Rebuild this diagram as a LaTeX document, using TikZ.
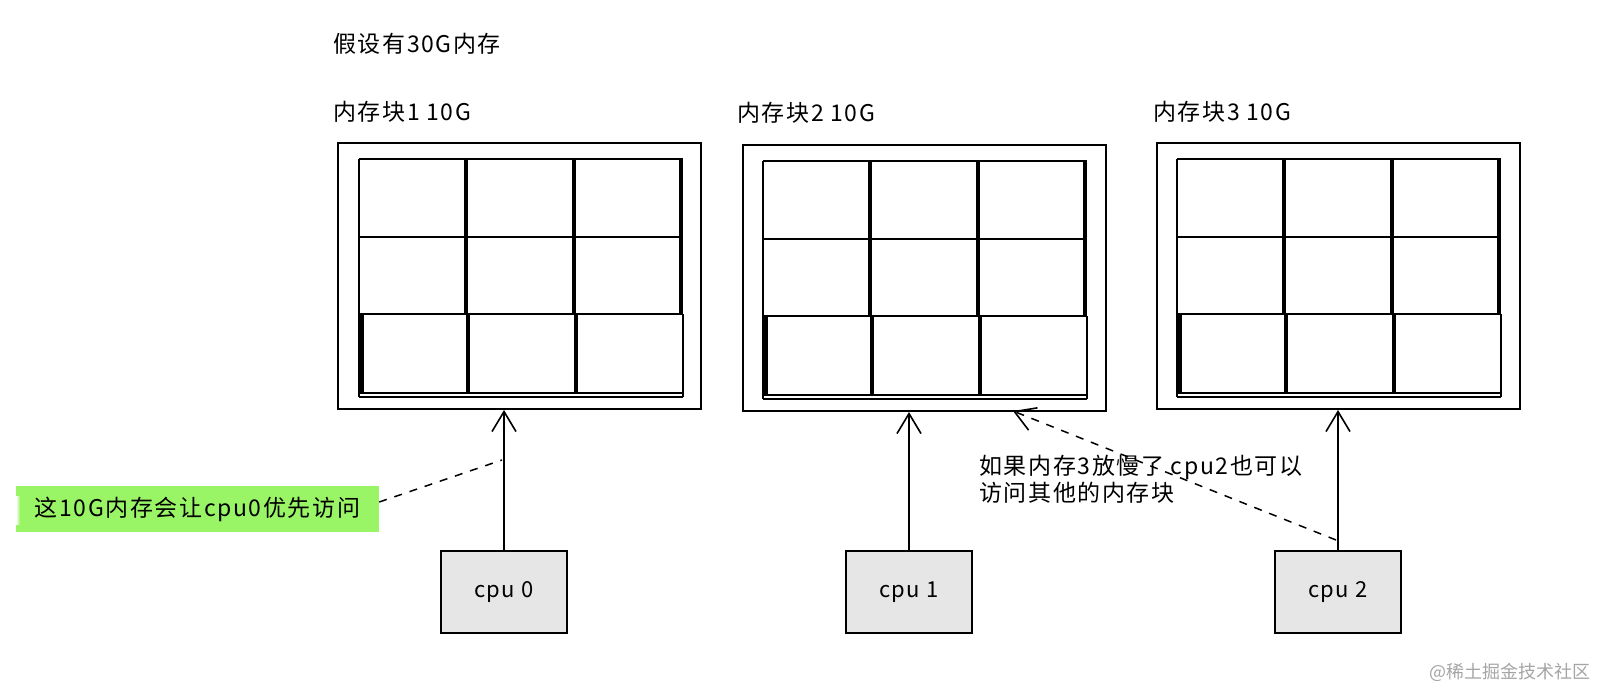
\documentclass[tikz,border=0pt]{standalone}
\usepackage{fontspec}
\setmainfont{Noto Sans CJK SC}[LetterSpace=7]
\newfontfamily\wmfont{Noto Sans CJK SC}
\usetikzlibrary{arrows.meta}
\definecolor{cpugray}{RGB}{230,230,230}
\definecolor{notegreen}{RGB}{153,245,102}
\definecolor{wmgray}{RGB}{165,165,165}
\tikzset{
  block/.style={draw, line width=2pt, minimum width=363pt, minimum height=266pt, inner sep=0pt},
  cpubox/.style={draw, fill=cpugray, line width=1.8pt, minimum width=126pt, minimum height=82pt, inner sep=0pt, font=\fontsize{22}{26}\selectfont},
  lbl/.style={anchor=west, inner sep=0pt, font=\fontsize{23}{27}\selectfont},
  conn/.style={line width=1.8pt, -{Straight Barb[length=20pt,width=24pt,line width=1.6pt]}},
  dashconn/.style={line width=1.5pt, dash pattern=on 8pt off 8pt},
  thinl/.style={line width=1.8pt},
  thickl/.style={line width=3.3pt},
}
\newcommand{\memgrid}[2]{%
  \begin{scope}[shift={(#1,#2)}]
    \draw[thinl] (359,159) -- (683,159);
    \draw[thinl] (359,237) -- (683,237);
    \draw[thinl] (359,314) -- (683,314);
    \draw[thinl] (359,393) -- (683,393);
    \draw[thinl] (359,397) -- (683,397);
    \draw[thinl] (359,159) -- (359,397);
    \draw[thickl] (466,159) -- (466,314);
    \draw[thickl] (574,159) -- (574,314);
    \draw[thickl] (681,159) -- (681,314);
    \draw[thickl] (362,314) -- (362,393);
    \draw[thickl] (468,314) -- (468,393);
    \draw[thickl] (576,314) -- (576,393);
    \draw[thinl] (683,314) -- (683,397);
  \end{scope}}
\begin{document}
\begin{tikzpicture}[x=1pt,y=-1pt]
  \fill[white] (0,0) rectangle (1598,688);
  \useasboundingbox (0,0) rectangle (1598,688);

  % titles
  \node[lbl] (title) at (333,44) {假设有30G内存};
  \node[lbl] (l1) at (333,112) {内存块1 10G};
  \node[lbl] (l2) at (737,113) {内存块2 10G};
  \node[lbl] (l3) at (1153,112) {内存块3 10G};

  % memory blocks
  \node[block] (m1) at (519.5,276) {};
  \node[block] (m2) at (924,278) {};
  \node[block] (m3) at (1338,276) {};
  \memgrid{0}{0}
  \memgrid{404}{2}
  \memgrid{818}{0}

  % cpus
  \node[cpubox] (cpu0) at (504,592) {cpu 0};
  \node[cpubox] (cpu1) at (909,592) {cpu 1};
  \node[cpubox] (cpu2) at (1338,592) {cpu 2};

  \draw[conn] (cpu0.north) -- (cpu0.north |- m1.south);
  \draw[conn] (cpu1.north) -- (cpu1.north |- m2.south);
  \draw[conn] (cpu2.north) -- (cpu2.north |- m3.south);

  % note
  \node[fill=notegreen, minimum width=363pt, minimum height=46pt, inner sep=0pt,
        font=\fontsize{23}{27}\selectfont] (note) at (197.5,509) {这10G内存会让cpu0优先访问};
  \shade[left color=white, right color=notegreen] (16,496) rectangle (20,524);
  \coordinate (p0) at (502,460);
  \draw[dashconn] ([yshift=7pt]note.east) -- (p0);

  % cpu2 remote access
  \coordinate (s2) at (1336,540);
  \coordinate (t2) at (1013,411);
  \draw[dashconn, -{Straight Barb[length=20pt,width=24pt,line width=1.6pt]}] (s2) -- (t2);
  \node[anchor=north west, inner sep=0pt, align=left,
        font=\fontsize{23}{27}\selectfont] (remote) at (979,455)
        {如果内存3放慢了 cpu2也可以\\访问其他的内存块};

  % watermark
  \node[anchor=east, inner sep=0pt, text=wmgray, font=\wmfont\fontsize{18}{20}\selectfont] (wm) at (1591,672) {@稀土掘金技术社区};
\end{tikzpicture}
\end{document}
